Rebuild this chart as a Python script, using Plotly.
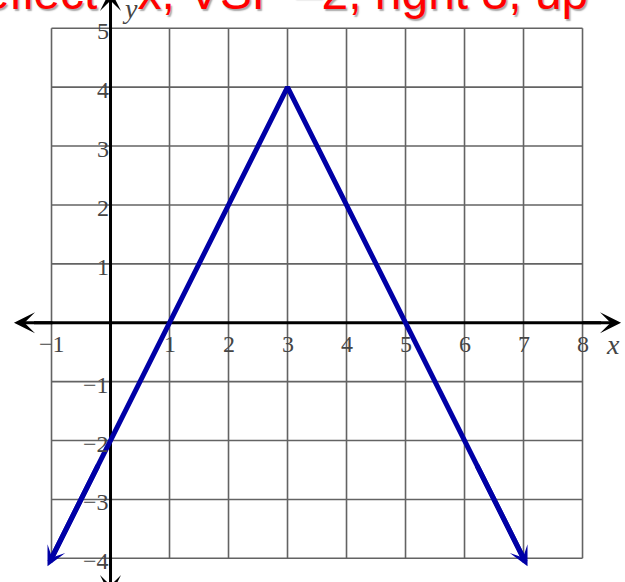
import plotly.graph_objects as go

# Piecewise-linear graph y = -2|x - 3| + 4 on a square grid
X_POINTS = [-1, 3, 7]
Y_POINTS = [-4, 4, -4]

X_GRID = list(range(-1, 9))
Y_GRID = list(range(-4, 6))
X_TICKS = [-1, 1, 2, 3, 4, 5, 6, 7, 8]
Y_TICKS = [-4, -3, -2, -1, 1, 2, 3, 4, 5]

TITLE = "Reflect\u00a0\u00a0 x, VSF \u20132, right 3, up"

# view window (data units) so the grid sits where it should in the 625x582 page
X_RANGE = [-1.873, 8.720]
Y_RANGE = [-4.402, 5.480]
W, H = 625, 582
PX_X = W / (X_RANGE[1] - X_RANGE[0])
PX_Y = H / (Y_RANGE[1] - Y_RANGE[0])

# arrow tips of the coordinate axes
X_AXIS_TIPS = [-1.636, 8.653]
Y_AXIS_TIPS = [-4.640, 5.650]

GRID_COLOR = "#636363"
AXIS_COLOR = "#000000"
CURVE_COLOR = "#0000A6"
LABEL_COLOR = "#454545"
SERIF = "Liberation Serif"

fig = go.Figure()

# grid lines, including the outer frame
gx, gy = [], []
for v in X_GRID:
    gx += [v, v, None]
    gy += [Y_GRID[0], Y_GRID[-1], None]
for v in Y_GRID:
    gx += [X_GRID[0], X_GRID[-1], None]
    gy += [v, v, None]
fig.add_trace(go.Scatter(x=gx, y=gy, mode="lines",
                         line=dict(color=GRID_COLOR, width=1.6),
                         hoverinfo="skip"))

# axis shafts (heads added as annotations); stop a little short of the tips
shaft_x = 20 / PX_X
shaft_y = 20 / PX_Y
fig.add_trace(go.Scatter(x=[X_AXIS_TIPS[0] + shaft_x, X_AXIS_TIPS[1] - shaft_x], y=[0, 0],
                         mode="lines", line=dict(color=AXIS_COLOR, width=3),
                         hoverinfo="skip"))
fig.add_trace(go.Scatter(x=[0, 0], y=[Y_AXIS_TIPS[0] + shaft_y, Y_AXIS_TIPS[1] - shaft_y],
                         mode="lines", line=dict(color=AXIS_COLOR, width=3),
                         hoverinfo="skip"))

# the graph itself
fig.add_trace(go.Scatter(x=X_POINTS, y=Y_POINTS, mode="lines",
                         line=dict(color=CURVE_COLOR, width=5),
                         hoverinfo="skip"))

annotations = []

# title text across the top
annotations.append(dict(
    text=TITLE, xref="paper", yref="paper",
    x=-54.0 / W, y=1 + 8.0 / H, xanchor="left", yanchor="middle",
    showarrow=False,
    font=dict(family="Liberation Sans", size=48, color="#FF0000",
              shadow="1.5px 1.5px 1.5px rgba(0,0,0,0.35)"),
))

def fmt(v):
    return str(v).replace("-", "\u2212")

for v in X_TICKS:
    annotations.append(dict(
        text=fmt(v), x=v, y=0, xref="x", yref="y", showarrow=False,
        xanchor="center", yanchor="middle", yshift=-21,
        font=dict(family=SERIF, size=24, color=LABEL_COLOR)))
for v in Y_TICKS:
    annotations.append(dict(
        text=fmt(v), x=0, y=v, xref="x", yref="y", showarrow=False,
        xanchor="right", yanchor="middle", yshift=-3,
        font=dict(family=SERIF, size=24, color=LABEL_COLOR)))

# axis names
annotations.append(dict(text="<i>x</i>", x=8.517, y=-0.377, xref="x", yref="y",
                        showarrow=False, xanchor="center", yanchor="middle",
                        font=dict(family=SERIF, size=28, color=LABEL_COLOR)))
annotations.append(dict(text="<i>y</i>", x=0.330, y=5.344, xref="x", yref="y",
                        showarrow=False, xanchor="center", yanchor="middle",
                        font=dict(family=SERIF, size=28, color=LABEL_COLOR)))

# axis arrowheads
def head(tip_x, tip_y, tail_x, tail_y, color, width, size):
    return dict(text="", x=tip_x, y=tip_y, ax=tail_x, ay=tail_y,
                xref="x", yref="y", axref="x", ayref="y",
                showarrow=True, arrowhead=3, arrowsize=size,
                arrowwidth=width, arrowcolor=color, standoff=0)

annotations.append(head(X_AXIS_TIPS[0], 0, X_AXIS_TIPS[0] + 40 / PX_X, 0, AXIS_COLOR, 3, 1.17))
annotations.append(head(X_AXIS_TIPS[1], 0, X_AXIS_TIPS[1] - 40 / PX_X, 0, AXIS_COLOR, 3, 1.17))
annotations.append(head(0, Y_AXIS_TIPS[0], 0, Y_AXIS_TIPS[0] + 40 / PX_Y, AXIS_COLOR, 3, 1.17))
annotations.append(head(0, Y_AXIS_TIPS[1], 0, Y_AXIS_TIPS[1] - 40 / PX_Y, AXIS_COLOR, 3, 1.17))

# arrowheads at both open ends of the graph, slightly past the end points
OVERSHOOT = 0.017
for end, inner in ((0, 1), (-1, -2)):
    ex, ey = X_POINTS[end], Y_POINTS[end]
    ix, iy = X_POINTS[inner], Y_POINTS[inner]
    tx = ex + OVERSHOOT * (ex - ix)
    ty = ey + OVERSHOOT * (ey - iy)
    bx = ex + 0.2 * (ix - ex)
    by = ey + 0.2 * (iy - ey)
    annotations.append(head(tx, ty, bx, by, CURVE_COLOR, 5, 0.66))

fig.update_layout(
    width=W, height=H,
    margin=dict(l=0, r=0, t=0, b=0),
    paper_bgcolor="white", plot_bgcolor="white",
    showlegend=False,
    xaxis=dict(range=X_RANGE, visible=False, fixedrange=True),
    yaxis=dict(range=Y_RANGE, visible=False, fixedrange=True),
    annotations=annotations,
)

fig.write_html("out.html")
